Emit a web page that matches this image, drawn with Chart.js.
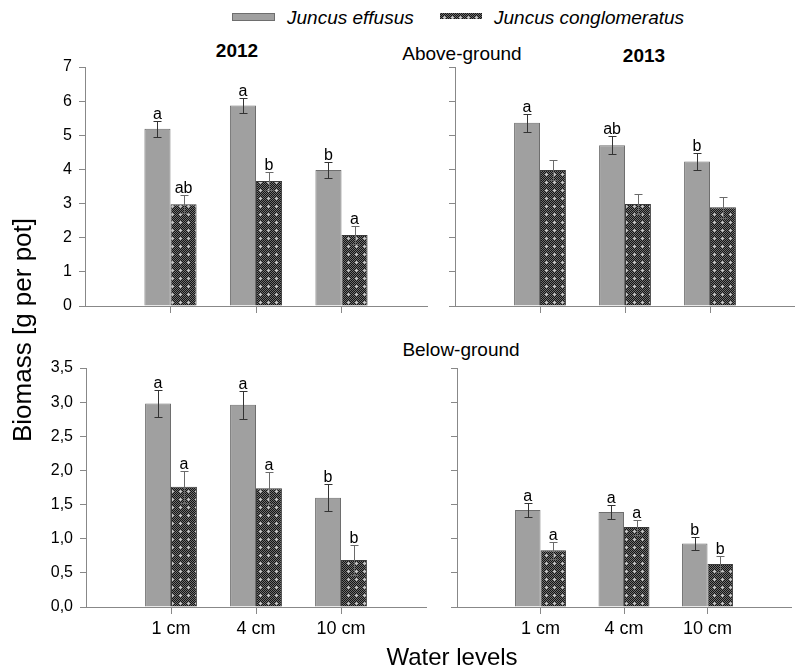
<!DOCTYPE html>
<html>
<head>
<meta charset="utf-8">
<script src="https://cdn.jsdelivr.net/npm/chart.js@4.4.0/dist/chart.umd.min.js"></script>
<style>
  body { margin: 0; background: #fff; }
  #wrap { position: relative; width: 795px; height: 671px; font-family: Arial, "Liberation Sans", sans-serif; color: #000; overflow: hidden; }
  #wrap canvas { position: absolute; }
  .t { position: absolute; white-space: nowrap; line-height: 1; }
</style>
</head>
<body>
<div id="wrap">
  <!-- legend -->
  <div id="swEff" style="position:absolute;left:232px;top:13px;width:41px;height:6px;background:#a0a0a0;border:1px solid #6e6e6e;"></div>
  <div class="t" style="left:287px;top:8px;font-size:19px;font-style:italic;">Juncus effusus</div>
  <canvas id="swCon" width="42" height="6" style="left:440px;top:13px;"></canvas>
  <div class="t" style="left:494px;top:8px;font-size:19px;font-style:italic;">Juncus conglomeratus</div>

  <!-- panel titles -->
  <div class="t" style="left:237px;top:41px;font-size:19px;font-weight:bold;transform:translateX(-50%);">2012</div>
  <div class="t" style="left:644px;top:46px;font-size:19px;font-weight:bold;transform:translateX(-50%);">2013</div>
  <div class="t" style="left:462px;top:44px;font-size:19px;transform:translateX(-50%);">Above-ground</div>
  <div class="t" style="left:461px;top:340px;font-size:19px;transform:translateX(-50%);">Below-ground</div>

  <canvas id="tl" width="430" height="273" style="left:0;top:50px;"></canvas>
  <canvas id="tr" width="365" height="273" style="left:430px;top:50px;"></canvas>
  <canvas id="bl" width="430" height="294" style="left:0;top:351px;"></canvas>
  <canvas id="br" width="365" height="294" style="left:430px;top:351px;"></canvas>

  <div class="t" style="left:22px;top:330px;font-size:26px;transform:translate(-50%,-50%) rotate(-90deg);">Biomass [g per pot]</div>
  <div class="t" style="left:452px;top:645px;font-size:24px;transform:translateX(-50%);">Water levels</div>
</div>

<script>
/* ===== data ===== */
const waterLevels = ['1 cm', '4 cm', '10 cm'];

const above2012Effusus = [5.19, 5.87, 3.98];
const above2012EffususSE = [0.23, 0.22, 0.23];
const above2012Conglo = [2.98, 3.66, 2.08];
const above2012CongloSE = [0.26, 0.27, 0.26];
const above2012EffususLetters = ['a', 'a', 'b'];
const above2012CongloLetters = ['ab', 'b', 'a'];

const above2013Effusus = [5.37, 4.71, 4.23];
const above2013EffususSE = [0.26, 0.27, 0.25];
const above2013Conglo = [3.98, 2.99, 2.89];
const above2013CongloSE = [0.3, 0.3, 0.3];
const above2013EffususLetters = ['a', 'ab', 'b'];
const above2013CongloLetters = ['', '', ''];

const below2012Effusus = [2.98, 2.96, 1.60];
const below2012EffususSE = [0.2, 0.2, 0.2];
const below2012Conglo = [1.76, 1.74, 0.69];
const below2012CongloSE = [0.23, 0.23, 0.22];
const below2012EffususLetters = ['a', 'a', 'b'];
const below2012CongloLetters = ['a', 'a', 'b'];

const below2013Effusus = [1.42, 1.39, 0.93];
const below2013EffususSE = [0.1, 0.1, 0.1];
const below2013Conglo = [0.83, 1.17, 0.63];
const below2013CongloSE = [0.12, 0.11, 0.12];
const below2013EffususLetters = ['a', 'a', 'b'];
const below2013CongloLetters = ['a', 'a', 'b'];

const aboveMax = 7, aboveStep = 1;
const belowMax = 3.5, belowStep = 0.5;

/* ===== helpers ===== */
// empty slot before and after the three water levels
function pad(arr) { return [null, ...arr, null]; }

function makePattern() {
  const c = document.createElement('canvas');
  c.width = 8; c.height = 8;
  const g = c.getContext('2d');
  g.fillStyle = '#141414';
  g.fillRect(0, 0, 8, 8);
  g.fillStyle = '#6e6e6e';
  for (let y = 0; y < 8; y++) for (let x = 0; x < 8; x++) if ((x + y) % 2 === 0) g.fillRect(x, y, 1, 1);
  g.fillStyle = '#c4c4c4';
  g.fillRect(4, 3, 1, 3);
  g.fillRect(3, 4, 3, 1);
  return g.createPattern(c, 'repeat');
}
const conPattern = makePattern();

// legend swatch
(function () {
  const g = document.getElementById('swCon').getContext('2d');
  g.fillStyle = conPattern;
  g.fillRect(0, 0, 42, 6);
})();

// error bars + significance letters
const errorBarPlugin = {
  id: 'errbars',
  afterDatasetsDraw(chart) {
    const ctx = chart.ctx;
    const ys = chart.scales.y;
    chart.data.datasets.forEach((ds, di) => {
      const meta = chart.getDatasetMeta(di);
      meta.data.forEach((bar, i) => {
        const v = ds.data[i];
        if (v == null) return;
        const e = ds.errors[i];
        const x = Math.round(bar.x) + 0.5;
        const top = Math.round(ys.getPixelForValue(v + e)) + 0.5;
        const bot = Math.round(ys.getPixelForValue(v - e)) + 0.5;
        ctx.save();
        ctx.strokeStyle = ds.errColor;
        ctx.lineWidth = 1;
        ctx.beginPath();
        ctx.moveTo(x, top); ctx.lineTo(x, bot);
        ctx.moveTo(x - 4, top); ctx.lineTo(x + 4, top);
        ctx.moveTo(x - 4, bot); ctx.lineTo(x + 4, bot);
        ctx.stroke();
        const lab = ds.letters[i];
        if (lab) {
          ctx.fillStyle = '#000';
          ctx.font = '16px Arial, "Liberation Sans", sans-serif';
          ctx.textAlign = 'center';
          ctx.textBaseline = 'alphabetic';
          ctx.fillText(lab, bar.x, top - 3);
        }
        ctx.restore();
      });
    });
  }
};

function makePanel(id, p) {
  const labels = ['', ...waterLevels, ''];
  const last = labels.length - 1;
  return new Chart(document.getElementById(id), {
    type: 'bar',
    data: {
      labels: labels,
      datasets: [{
        label: 'Juncus effusus',
        data: pad(p.eff),
        errors: pad(p.effSE),
        letters: pad(p.effLet),
        errColor: '#333',
        backgroundColor: '#a0a0a0',
        borderColor: '#6e6e6e',
        borderWidth: 1,
        categoryPercentage: 0.61,
        barPercentage: 1
      }, {
        label: 'Juncus conglomeratus',
        data: pad(p.con),
        errors: pad(p.conSE),
        letters: pad(p.conLet),
        errColor: '#6a6a6a',
        backgroundColor: conPattern,
        borderColor: '#3a3a3a',
        borderWidth: 1,
        categoryPercentage: 0.61,
        barPercentage: 1
      }]
    },
    options: {
      responsive: false,
      animation: false,
      events: [],
      layout: { padding: { top: p.padTop, right: p.padRight, left: 0, bottom: 0 } },
      plugins: { legend: { display: false }, tooltip: { enabled: false } },
      scales: {
        x: {
          offset: false,
          grid: {
            offset: false,
            drawOnChartArea: false,
            tickLength: 7,
            color: c => (c.index === 0 || c.index === last) ? 'rgba(0,0,0,0)' : '#888'
          },
          border: { color: '#888' },
          ticks: {
            display: p.showX,
            autoSkip: false,
            maxRotation: 0,
            padding: 4,
            color: '#000',
            font: { size: 18, family: 'Arial, "Liberation Sans", sans-serif' }
          },
          afterFit: s => { s.height = p.xH; }
        },
        y: {
          min: 0,
          max: p.max,
          grid: { drawOnChartArea: false, tickLength: 6, color: '#888' },
          border: { color: '#888' },
          ticks: {
            display: p.showY,
            stepSize: p.step,
            padding: 7,
            color: '#000',
            font: { size: 16, family: 'Arial, "Liberation Sans", sans-serif' },
            callback: v => p.step < 1 ? Number(v).toFixed(1).replace('.', ',') : String(v)
          },
          afterFit: s => { s.width = p.yW; }
        }
      }
    },
    plugins: [errorBarPlugin]
  });
}

makePanel('tl', {
  eff: above2012Effusus, effSE: above2012EffususSE, effLet: above2012EffususLetters,
  con: above2012Conglo, conSE: above2012CongloSE, conLet: above2012CongloLetters,
  max: aboveMax, step: aboveStep, showX: false, showY: true,
  padTop: 17, padRight: 3, yW: 85, xH: 17
});
makePanel('tr', {
  eff: above2013Effusus, effSE: above2013EffususSE, effLet: above2013EffususLetters,
  con: above2013Conglo, conSE: above2013CongloSE, conLet: above2013CongloLetters,
  max: aboveMax, step: aboveStep, showX: false, showY: false,
  padTop: 17, padRight: 0, yW: 25, xH: 17
});
makePanel('bl', {
  eff: below2012Effusus, effSE: below2012EffususSE, effLet: below2012EffususLetters,
  con: below2012Conglo, conSE: below2012CongloSE, conLet: below2012CongloLetters,
  max: belowMax, step: belowStep, showX: true, showY: true,
  padTop: 17, padRight: 2, yW: 86, xH: 38
});
makePanel('br', {
  eff: below2013Effusus, effSE: below2013EffususSE, effLet: below2013EffususLetters,
  con: below2013Conglo, conSE: below2013CongloSE, conLet: below2013CongloLetters,
  max: belowMax, step: belowStep, showX: true, showY: false,
  padTop: 17, padRight: 0, yW: 27, xH: 38
});
</script>
</body>
</html>
